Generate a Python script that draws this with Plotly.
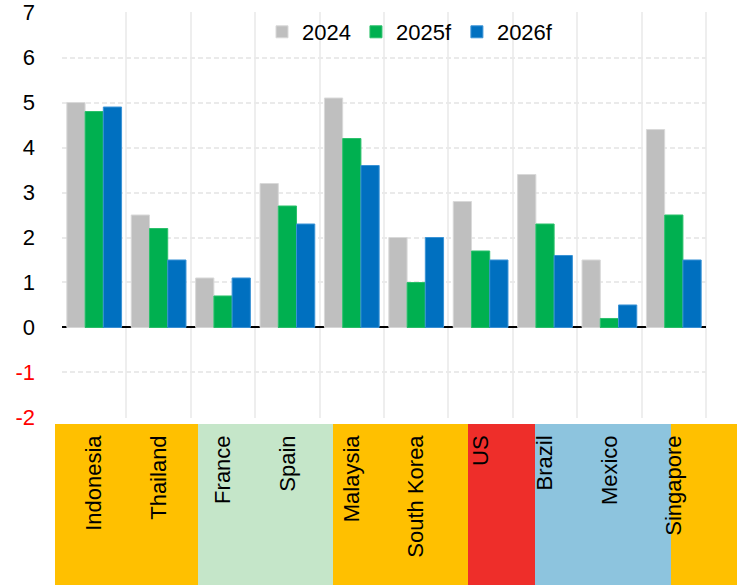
import plotly.graph_objects as go

countries = ["Indonesia", "Thailand", "France", "Spain", "Malaysia",
             "South Korea", "US", "Brazil", "Mexico", "Singapore"]
series_names = ["2024", "2025f", "2026f"]
v2024 = [5.0, 2.5, 1.1, 3.2, 5.1, 2.0, 2.8, 3.4, 1.5, 4.4]
v2025 = [4.8, 2.2, 0.7, 2.7, 4.2, 1.0, 1.7, 2.3, 0.2, 2.5]
v2026 = [4.9, 1.5, 1.1, 2.3, 3.6, 2.0, 1.5, 1.6, 0.5, 1.5]
y_ticks = [-2, -1, 0, 1, 2, 3, 4, 5, 6, 7]

colors = ["#BFBFBF", "#00B050", "#0070C0"]
edge_colors = ["#D9D9D9", "#2BC06B", "#3A93D6"]

# background band under the category labels (region colours)
band_colors = ["#FFC000", "#C5E6C9", "#FFC000", "#EE2E2A", "#8DC4DE", "#FFC000"]
band_edges_px = [55, 198, 333, 468, 535, 671, 737]

W, H = 737, 585
L, R, T, B = 62, 31, 12, 167
pw, ph = W - L - R, H - T - B

fig = go.Figure()
for name, vals, c, ec in zip(series_names, [v2024, v2025, v2026], colors, edge_colors):
    fig.add_trace(go.Bar(x=countries, y=vals, name=name,
                         marker=dict(color=c, line=dict(color=ec, width=1))))

def px2paper_x(p):
    return (p - L) / pw

def px2paper_y(p):
    return (H - B - p) / ph

shapes = []
for i, col in enumerate(band_colors):
    shapes.append(dict(type="rect", xref="paper", yref="paper",
                       x0=px2paper_x(band_edges_px[i]), x1=px2paper_x(band_edges_px[i + 1]),
                       y0=px2paper_y(424), y1=px2paper_y(H + 5),
                       fillcolor=col, line=dict(width=0), layer="below"))
# right border gridline
shapes.append(dict(type="line", xref="paper", yref="paper", x0=1, x1=1, y0=0, y1=1,
                   line=dict(color="#EEEEEE", width=2), layer="below"))

tick_text = [f"<span style='color:#FF0000'>{t}</span>" if t < 0 else str(t) for t in y_ticks]

fig.update_layout(
    width=W, height=H,
    margin=dict(l=L, r=R, t=T, b=B, pad=0, autoexpand=False),
    paper_bgcolor="white", plot_bgcolor="white",
    font=dict(family="Arial, 'Liberation Sans', sans-serif", size=22, color="black"),
    barmode="group", bargap=0.15, bargroupgap=0,
    shapes=shapes,
    legend=dict(orientation="h", x=px2paper_x(410), y=px2paper_y(32),
                xanchor="center", yanchor="middle",
                bgcolor="rgba(0,0,0,0)", font=dict(size=22), itemwidth=30,
                traceorder="normal"),
    xaxis=dict(type="category", tickson="boundaries", showgrid=True,
               gridcolor="#EEEEEE", gridwidth=2, tickangle=-90, automargin=False,
               ticks="", ticklabelstandoff=12, showline=False,
               ticklabeloverflow="allow", tickfont=dict(size=22)),
    yaxis=dict(range=[-2.012, 7.012], tickvals=y_ticks, ticktext=tick_text, automargin=False,
               showgrid=True, gridcolor="#EAEAEA", gridwidth=2, griddash="5px,3px",
               zeroline=True, zerolinecolor="black", zerolinewidth=2,
               ticks="", ticklabelstandoff=26, showline=False,
               ticklabeloverflow="allow", tickfont=dict(size=22)),
)

fig.write_html("out.html")
